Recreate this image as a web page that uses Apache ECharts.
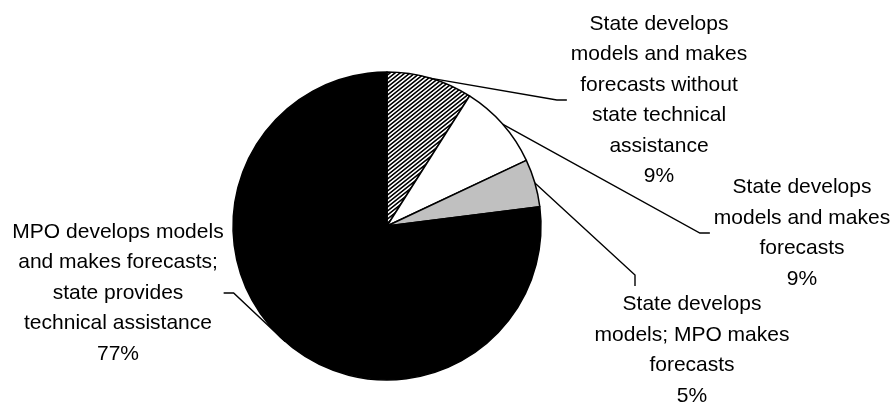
<!DOCTYPE html>
<html>
<head>
<meta charset="utf-8">
<script src="https://cdn.jsdelivr.net/npm/echarts@6/dist/echarts.min.js"></script>
<style>
  html, body { margin: 0; padding: 0; background: #fff; }
  #chart { width: 892px; height: 402px; }
</style>
</head>
<body>
<div id="chart"></div>
<script>
// Who develops travel models and makes forecasts (share of responses, %)
const categories = [
  'State develops\nmodels and makes\nforecasts without\nstate technical\nassistance',
  'State develops\nmodels and makes\nforecasts',
  'State develops\nmodels; MPO makes\nforecasts',
  'MPO develops models\nand makes forecasts;\nstate provides\ntechnical assistance'
];
const shares = [9, 9, 5, 77];

// Label block centres and the side of the block the leader line meets
const labelCenters = [[659, 100], [802, 233], [692, 350], [118, 293]];
const leaderSide = ['left', 'left', 'top', 'right'];

// Diagonal black/white hatch used for the first slice
function hatchPattern() {
  const px = 5, py = 4, ss = 4;
  const c = document.createElement('canvas');
  c.width = px; c.height = py;
  const ctx = c.getContext('2d');
  const img = ctx.createImageData(px, py);
  for (let y = 0; y < py; y++) {
    for (let x = 0; x < px; x++) {
      let dark = 0;
      for (let sy = 0; sy < ss; sy++) {
        for (let sx = 0; sx < ss; sx++) {
          const f = (x + (sx + 0.5) / ss) / px + (y + (sy + 0.5) / ss) / py;
          if (f - Math.floor(f) < 0.5) dark++;
        }
      }
      const v = Math.round(255 * (1 - dark / (ss * ss)));
      const k = (y * px + x) * 4;
      img.data[k] = v; img.data[k + 1] = v; img.data[k + 2] = v; img.data[k + 3] = 255;
    }
  }
  ctx.putImageData(img, 0, 0);
  return c;
}

const sliceFills = [
  { image: hatchPattern(), repeat: 'repeat' },
  '#ffffff',
  '#c0c0c0',
  '#000000'
];

const chart = echarts.init(document.getElementById('chart'), null, { renderer: 'canvas' });

chart.setOption({
  animation: false,
  backgroundColor: '#fff',
  series: [{
    type: 'pie',
    center: [387, 226],
    radius: 154,
    startAngle: 90,
    clockwise: true,
    avoidLabelOverlap: false,
    silent: true,
    emphasis: { disabled: true },
    itemStyle: { borderColor: '#000', borderWidth: 1.5 },
    label: {
      show: true,
      position: 'outside',
      formatter: p => p.name + '\n' + p.value + '%',
      color: '#000',
      fontFamily: '"Liberation Sans", Arial, sans-serif',
      fontSize: 21,
      lineHeight: 30.5,
      align: 'center'
    },
    labelLine: {
      show: true,
      length: 20,
      length2: 10,
      lineStyle: { color: '#000', width: 1.4 }
    },
    labelLayout: function (p) {
      const i = p.dataIndex;
      const cx = labelCenters[i][0], cy = labelCenters[i][1];
      const w = p.labelRect.width, h = p.labelRect.height;
      const L = cx - w / 2, R = cx + w / 2, T = cy - h / 2;
      const a = (p.labelLinePoints && p.labelLinePoints[0]) || [cx, cy];
      let pts;
      if (leaderSide[i] === 'left') {
        pts = [a, [L - 14, cy], [L - 4, cy]];
      } else if (leaderSide[i] === 'top') {
        pts = [a, [cx - 57, T - 14], [cx - 57, T - 3]];
      } else {
        pts = [a, [R + 10, cy], [R, cy]];
      }
      return { x: cx, y: cy, align: 'center', verticalAlign: 'middle', labelLinePoints: pts };
    },
    data: shares.map((v, i) => ({
      name: categories[i],
      value: v,
      itemStyle: { color: sliceFills[i] }
    }))
  }]
});
</script>
</body>
</html>
